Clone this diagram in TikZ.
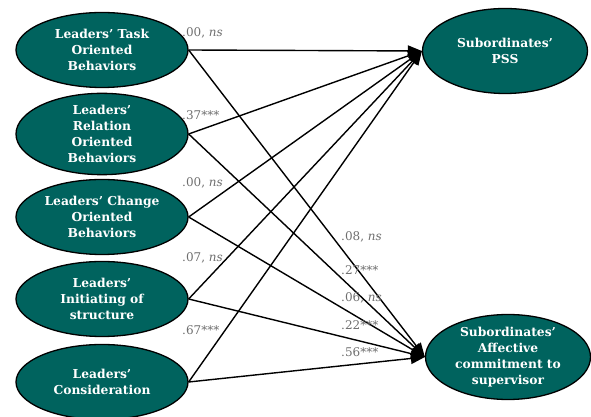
\documentclass[tikz,border=0pt]{standalone}
\usepackage{fontspec}
\setmainfont{DejaVu Serif}
\usetikzlibrary{shapes.geometric,arrows.meta}
\definecolor{teal1}{RGB}{0,99,94}
\definecolor{lblgray}{RGB}{110,110,110}
\tikzset{
  lat/.style={ellipse,draw=black,line width=1.3pt,fill=teal1,text=white,
    font=\fontsize{12.3}{16}\selectfont\bfseries,align=center,inner sep=0pt,
    minimum width=172pt,minimum height=75pt},
  res/.style={lat,minimum width=165pt,minimum height=85pt},
  path/.style={line width=1.4pt,-{Triangle[length=14pt,width=11pt]}},
  coef/.style={anchor=west,text=lblgray,font=\fontsize{12}{14}\selectfont,inner sep=0pt}
}
\begin{document}
\begin{tikzpicture}[x=1pt,y=1pt]
\useasboundingbox (0,0) rectangle (591,417);
\node[lat] (task) at (102,367) {Leaders’ Task\\Oriented\\Behaviors};
\node[lat] (rel) at (102,283) {Leaders’\\Relation\\Oriented\\Behaviors};
\node[lat] (chg) at (102,200) {Leaders’ Change\\Oriented\\Behaviors};
\node[lat] (init) at (102,118) {Leaders’\\Initiating of\\structure};
\node[lat] (cons) at (102,35) {Leaders’\\Consideration};
\node[res] (pss) at (505,366) {Subordinates’\\PSS};
\node[res] (aff) at (508,60) {Subordinates’\\Affective\\commitment to\\supervisor};
\foreach \s in {task,rel,chg,init,cons}{
  \draw[path] (\s.east) -- (pss.west);
  \draw[path] (\s.east) -- (aff.west);
}
\node[coef] (c1) at (182,384) {.00, \textit{ns}};
\node[coef] (c2) at (182,302) {.37***};
\node[coef] (c3) at (182,234) {.00, \textit{ns}};
\node[coef] (c4) at (182,159) {.07, \textit{ns}};
\node[coef] (c5) at (182,87) {.67***};
\node[coef] (d1) at (341,180) {.08, \textit{ns}};
\node[coef] (d2) at (341,147) {.27***};
\node[coef] (d3) at (341,119) {.06, \textit{ns}};
\node[coef] (d4) at (341,92) {.22***};
\node[coef] (d5) at (341,65) {.56***};
\end{tikzpicture}
\end{document}
